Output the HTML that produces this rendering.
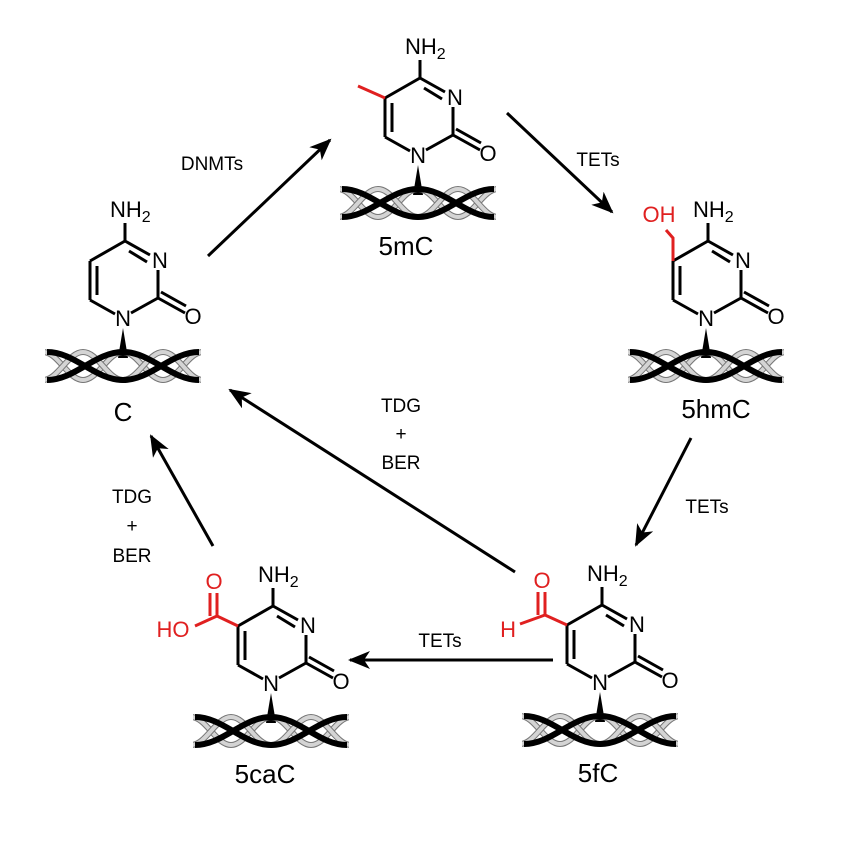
<!DOCTYPE html>
<html><head><meta charset="utf-8"><style>
html,body{margin:0;padding:0;background:#fff}
svg{display:block}
text{font-family:"Liberation Sans",sans-serif}
</style></head><body>
<svg width="855" height="865" viewBox="0 0 855 865" xmlns="http://www.w3.org/2000/svg">
<defs>
<marker id="ah" markerWidth="22" markerHeight="18" refX="20" refY="9" orient="auto" markerUnits="userSpaceOnUse">
<path d="M0,0 L22,9 L0,18 L6,9 Z" fill="#000"/>
</marker>
<clipPath id="hc"><rect x="-78" y="20" width="156" height="60"/></clipPath>
<path id="gA" d="M-80,34 C-65,34 -55,62 -40,62 S-15,34 0,34 S25,62 40,62 S65,34 80,34"/>
<path id="gB" d="M-80,62 C-65,62 -55,34 -40,34 S-15,62 0,62 S25,34 40,34 S65,62 80,62"/>
<path id="bA" d="M-76,62 C-48,62 -28,34 0,34 S48,62 76,62"/>
<path id="bB" d="M-76,34 C-48,34 -28,62 0,62 S48,34 76,34"/>
<g id="helix" clip-path="url(#hc)" fill="none">
<use href="#gA" stroke="#777" stroke-width="6"/>
<use href="#gA" stroke="#d4d4d4" stroke-width="4"/>
<use href="#gB" stroke="#777" stroke-width="6"/>
<use href="#gB" stroke="#d4d4d4" stroke-width="4"/>
<use href="#bA" stroke="#000" stroke-width="6"/>
<use href="#bB" stroke="#000" stroke-width="6"/>
</g>
<g id="ring" fill="none" stroke="#000" stroke-width="3">
<line x1="8" y1="-5" x2="35" y2="-20"/>
<line x1="35" y1="-20" x2="35" y2="-48"/>
<line x1="27" y1="-63" x2="2" y2="-77"/>
<line x1="24" y1="-56" x2="6" y2="-67"/>
<line x1="2" y1="-77" x2="-33" y2="-57"/>
<line x1="-33" y1="-57" x2="-33" y2="-18"/>
<line x1="-26" y1="-52" x2="-26" y2="-23"/>
<line x1="-33" y1="-18" x2="-8" y2="-4"/>
<line x1="35" y1="-20" x2="62" y2="-5"/>
<line x1="38" y1="-26" x2="63" y2="-12"/>
<line x1="2" y1="-77" x2="2" y2="-95"/>
<polygon points="0,10 -5,40 5,40" fill="#000" stroke="none"/>
<use href="#helix"/>
</g>
</defs>

<g font-size="22" fill="#000">
<g transform="translate(123,318)">
<use href="#ring"/>
<text x="0" y="8" text-anchor="middle">N</text>
<text x="37" y="-50" text-anchor="middle">N</text>
<text x="70" y="6" text-anchor="middle">O</text>
<text x="-13" y="-101">NH<tspan font-size="16" dy="5">2</tspan></text>
<text x="0" y="103" text-anchor="middle" font-size="26">C</text>
</g>
<g transform="translate(418,155)">
<use href="#ring"/>
<line x1="-33" y1="-57" x2="-60" y2="-69" stroke="#e02020" stroke-width="3"/>
<text x="0" y="8" text-anchor="middle">N</text>
<text x="37" y="-50" text-anchor="middle">N</text>
<text x="70" y="6" text-anchor="middle">O</text>
<text x="-13" y="-101">NH<tspan font-size="16" dy="5">2</tspan></text>
<text x="-12" y="100" text-anchor="middle" font-size="26">5mC</text>
</g>
<g transform="translate(706,318)">
<use href="#ring"/>
<polyline points="-33,-57 -33,-80 -40,-88" fill="none" stroke="#e02020" stroke-width="3"/>
<text x="-47" y="-96" text-anchor="middle" fill="#e02020">OH</text>
<text x="0" y="8" text-anchor="middle">N</text>
<text x="37" y="-50" text-anchor="middle">N</text>
<text x="70" y="6" text-anchor="middle">O</text>
<text x="-13" y="-101">NH<tspan font-size="16" dy="5">2</tspan></text>
<text x="10" y="100" text-anchor="middle" font-size="26">5hmC</text>
</g>
<g transform="translate(600,682)">
<use href="#ring"/>
<g stroke="#e02020" stroke-width="3" fill="none">
<line x1="-33" y1="-57" x2="-55" y2="-67"/>
<line x1="-55" y1="-67" x2="-55" y2="-90"/>
<line x1="-62" y1="-67" x2="-62" y2="-90"/>
<line x1="-55" y1="-67" x2="-80" y2="-58"/>
</g>
<text x="-58" y="-94" text-anchor="middle" fill="#e02020">O</text>
<text x="-92" y="-45" text-anchor="middle" fill="#e02020">H</text>
<text x="0" y="8" text-anchor="middle">N</text>
<text x="37" y="-50" text-anchor="middle">N</text>
<text x="70" y="6" text-anchor="middle">O</text>
<text x="-13" y="-101">NH<tspan font-size="16" dy="5">2</tspan></text>
<text x="-2" y="100" text-anchor="middle" font-size="26">5fC</text>
</g>
<g transform="translate(271,683)">
<use href="#ring"/>
<g stroke="#e02020" stroke-width="3" fill="none">
<line x1="-33" y1="-57" x2="-54" y2="-67"/>
<line x1="-54" y1="-67" x2="-54" y2="-90"/>
<line x1="-61" y1="-67" x2="-61" y2="-90"/>
<line x1="-54" y1="-67" x2="-76" y2="-57"/>
</g>
<text x="-57" y="-94" text-anchor="middle" fill="#e02020">O</text>
<text x="-98" y="-46" text-anchor="middle" fill="#e02020">HO</text>
<text x="0" y="8" text-anchor="middle">N</text>
<text x="37" y="-50" text-anchor="middle">N</text>
<text x="70" y="6" text-anchor="middle">O</text>
<text x="-13" y="-101">NH<tspan font-size="16" dy="5">2</tspan></text>
<text x="-6" y="100" text-anchor="middle" font-size="26">5caC</text>
</g>
</g>

<g stroke="#000" stroke-width="3" fill="none" marker-end="url(#ah)">
<line x1="208" y1="256" x2="330" y2="140"/>
<line x1="507" y1="113" x2="612" y2="212"/>
<line x1="691" y1="438" x2="636" y2="545"/>
<line x1="553" y1="660" x2="350" y2="660"/>
<line x1="515" y1="572" x2="230" y2="390"/>
<line x1="213" y1="546" x2="151" y2="436"/>
</g>

<g font-size="19" fill="#000" text-anchor="middle">
<text x="212" y="170">DNMTs</text>
<text x="598" y="166">TETs</text>
<text x="707" y="513">TETs</text>
<text x="440" y="647">TETs</text>
<text x="401" y="412">TDG</text>
<text x="401" y="440">+</text>
<text x="401" y="469">BER</text>
<text x="132" y="503">TDG</text>
<text x="132" y="532">+</text>
<text x="132" y="562">BER</text>
</g>
</svg>
</body></html>
